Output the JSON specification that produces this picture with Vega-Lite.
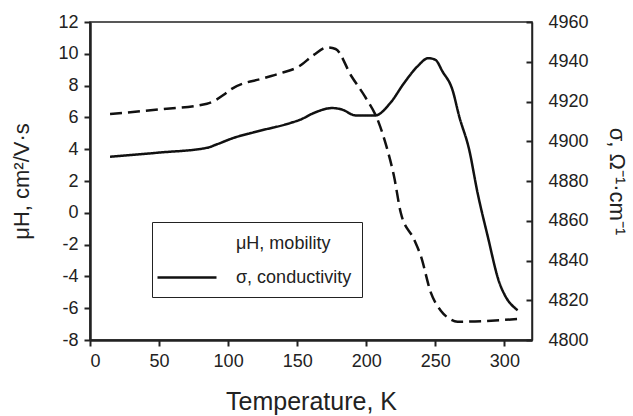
{
  "$schema": "https://vega.github.io/schema/vega-lite/v6.json",
  "width": 442,
  "height": 318,
  "autosize": {"type": "none"},
  "padding": {"left": 90, "top": 22, "right": 101, "bottom": 76},
  "background": "white",
  "config": {
    "font": "Liberation Sans",
    "view": {"stroke": "#222", "strokeWidth": 1.5},
    "axis": {
      "grid": false,
      "labelFont": "Liberation Sans",
      "labelFontSize": 18,
      "labelColor": "#222",
      "titleFont": "Liberation Sans",
      "titleFontWeight": "normal",
      "titleColor": "#222",
      "domainColor": "#222",
      "tickColor": "#222",
      "tickWidth": 2
    }
  },
  "datasets": {
    "mobility": [
      {"T": 14.5, "mu": 6.22},
      {"T": 50, "mu": 6.5},
      {"T": 84.7, "mu": 6.86},
      {"T": 96.8, "mu": 7.42},
      {"T": 101.6, "mu": 7.74},
      {"T": 125.8, "mu": 8.47},
      {"T": 137.9, "mu": 8.78},
      {"T": 151.2, "mu": 9.2},
      {"T": 162, "mu": 9.93},
      {"T": 171.8, "mu": 10.4},
      {"T": 177.8, "mu": 10.3},
      {"T": 189.4, "mu": 8.57},
      {"T": 199, "mu": 7.32},
      {"T": 208.7, "mu": 5.75},
      {"T": 215.3, "mu": 3.97},
      {"T": 220.1, "mu": 2.3},
      {"T": 225, "mu": 0.0},
      {"T": 234.6, "mu": -1.67},
      {"T": 239.5, "mu": -2.71},
      {"T": 246.7, "mu": -5.0},
      {"T": 254, "mu": -6.16},
      {"T": 260, "mu": -6.65},
      {"T": 266.1, "mu": -6.85},
      {"T": 309.6, "mu": -6.68}
    ],
    "conductivity": [
      {"T": 14.5, "sigma": 4892.2},
      {"T": 50, "sigma": 4894.3},
      {"T": 84.7, "sigma": 4896.7},
      {"T": 92, "sigma": 4898.5},
      {"T": 104, "sigma": 4901.7},
      {"T": 118.5, "sigma": 4904.5},
      {"T": 145.1, "sigma": 4909.2},
      {"T": 152.4, "sigma": 4910.9},
      {"T": 162, "sigma": 4914.2},
      {"T": 175.3, "sigma": 4916.7},
      {"T": 182.6, "sigma": 4915.9},
      {"T": 192.2, "sigma": 4913},
      {"T": 203.2, "sigma": 4912.9},
      {"T": 206.8, "sigma": 4913},
      {"T": 217.7, "sigma": 4919.5},
      {"T": 227.4, "sigma": 4929.3},
      {"T": 237, "sigma": 4937.6},
      {"T": 245, "sigma": 4941.8},
      {"T": 250, "sigma": 4941},
      {"T": 255.2, "sigma": 4935.1},
      {"T": 262.4, "sigma": 4925.9},
      {"T": 267.3, "sigma": 4912.5},
      {"T": 274.5, "sigma": 4895.8},
      {"T": 280.6, "sigma": 4874},
      {"T": 287.9, "sigma": 4852.3},
      {"T": 296.3, "sigma": 4829},
      {"T": 300, "sigma": 4823},
      {"T": 309.6, "sigma": 4815}
    ]
  },
  "layer": [
    {
      "data": {"name": "mobility"},
      "mark": {"type": "line", "interpolate": "monotone", "strokeWidth": 2.5, "color": "#111"},
      "encoding": {
        "x": {
          "field": "T", "type": "quantitative",
          "scale": {"domain": [0, 320], "nice": false},
          "axis": {
            "orient": "bottom", "values": [0, 50, 100, 150, 200, 250, 300],
            "tickSize": 6, "domainWidth": 2.5, "labelPadding": 6,
            "title": "Temperature, K", "titleFontSize": 25, "titlePadding": 19
          }
        },
        "y": {
          "field": "mu", "type": "quantitative",
          "scale": {"domain": [-8, 12], "nice": false},
          "axis": {
            "orient": "left", "values": [-8, -6, -4, -2, 0, 2, 4, 6, 8, 10, 12],
            "labelExpr": "'' + datum.value",
            "tickSize": 6, "domainWidth": 2.5, "labelPadding": 6,
            "title": "μH, cm²/V·s", "titleFontSize": 22, "titlePadding": 24
          }
        },
        "strokeDash": {
          "datum": "μH, mobility", "type": "nominal",
          "scale": {"domain": ["μH, mobility", "σ, conductivity"], "range": [[12, 6], [1, 0]]},
          "legend": {
            "orient": "none", "legendX": 62, "legendY": 200, "title": null,
            "direction": "vertical",
            "strokeColor": "#222", "fillColor": "white", "padding": 10,
            "symbolType": "M-1.6,0H4.3", "symbolSize": 400, "symbolStrokeWidth": 2.5,
            "symbolStrokeColor": "#111",
            "labelFont": "Liberation Sans", "labelFontSize": 18, "labelColor": "#222",
            "labelOffset": 51, "rowPadding": 13,
            "encode": {"symbols": {"update": {"opacity": {"signal": "datum.label === 'μH, mobility' ? 0 : 1"}}}}
          }
        }
      }
    },
    {
      "data": {"name": "conductivity"},
      "mark": {"type": "line", "interpolate": "monotone", "strokeWidth": 2.5, "color": "#111"},
      "encoding": {
        "x": {"field": "T", "type": "quantitative"},
        "y": {
          "field": "sigma", "type": "quantitative",
          "scale": {"domain": [4800, 4960], "nice": false},
          "axis": {
            "orient": "right", "values": [4800, 4820, 4840, 4860, 4880, 4900, 4920, 4940, 4960],
            "labelExpr": "'' + datum.value",
            "tickSize": -6, "domainWidth": 1.5, "labelPadding": 22,
            "title": "σ, Ω⁻¹·cm⁻¹", "titleFontSize": 22, "titlePadding": 16
          }
        },
        "strokeDash": {"datum": "σ, conductivity", "type": "nominal"}
      }
    }
  ],
  "resolve": {"scale": {"y": "independent"}}
}
